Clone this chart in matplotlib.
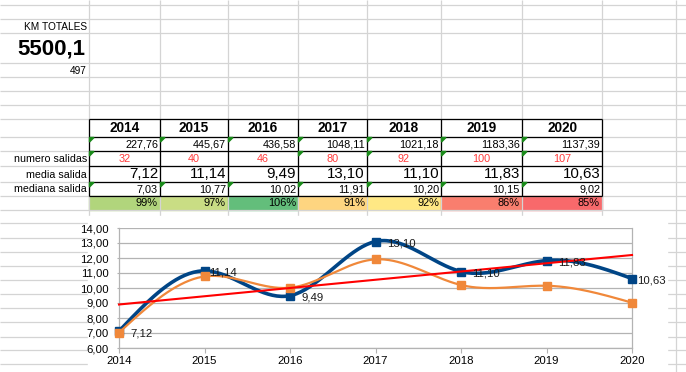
# -*- coding: utf-8 -*-

import numpy as np
import matplotlib
matplotlib.use('Agg')
import matplotlib.pyplot as plt
from matplotlib.patches import Rectangle, Polygon

plt.rcParams['font.family'] = ['Liberation Sans', 'DejaVu Sans']

# datos
years = [2014, 2015, 2016, 2017, 2018, 2019, 2020]
km = [227.76, 445.67, 436.58, 1048.11, 1021.18, 1183.36, 1137.39]
salidas = [32, 40, 46, 80, 92, 100, 107]
media = [7.12, 11.14, 9.49, 13.10, 11.10, 11.83, 10.63]
mediana = [7.03, 10.77, 10.02, 11.91, 10.20, 10.15, 9.02]
pct = [99, 97, 106, 91, 92, 86, 85]
pct_colors = ['#b1d57c', '#c9dd84', '#63be7b', '#fed580', '#ffe884', '#f97e6e', '#f8696b']
km_total = 5500.1
km_sub = 497
trend = [8.90, 12.20]  # extremos de la linea de tendencia


def es(v, d=2):
    return f'{v:.{d}f}'.replace('.', ',')


def spline(x, y, n=40):
    """spline cubica natural, solo para suavizar el dibujo"""
    x = np.asarray(x, float)
    y = np.asarray(y, float)
    m = len(x)
    A = np.zeros((m, m))
    b = np.zeros(m)
    A[0, 0] = A[-1, -1] = 1
    for i in range(1, m - 1):
        A[i, i - 1:i + 2] = [1, 4, 1]
        b[i] = 6 * (y[i + 1] - 2 * y[i] + y[i - 1])
    M = np.linalg.solve(A, b)
    xs, ys = [], []
    for i in range(m - 1):
        u = np.linspace(0, 1, n)
        s = (M[i] * (1 - u) ** 3 / 6 + M[i + 1] * u ** 3 / 6
             + (y[i] - M[i] / 6) * (1 - u) + (y[i + 1] - M[i + 1] / 6) * u)
        xs.extend(x[i] + u)
        ys.extend(s)
    return np.array(xs), np.array(ys)


fig = plt.figure(figsize=(6.86, 3.72), dpi=100)
bg = fig.add_axes([0, 0, 1, 1])
bg.set_xlim(0, 686)
bg.set_ylim(372, 0)
bg.axis('off')

# rejilla de la hoja
rows = [5, 19, 33, 63, 77, 91, 105, 119, 137, 151, 166, 182, 196, 210,
        223, 238, 252, 266, 280, 294, 308, 322, 337, 350, 364]
cols = [89, 160, 228, 298, 367, 441, 522, 602, 676]
bg.hlines(rows, 0, 686, color='#d4d4d4', lw=0.9)
bg.vlines(cols, 0, 372, color='#d4d4d4', lw=0.9)

# tabla
bg.add_patch(Rectangle((89, 119), 602 - 89, 91, color='white', zorder=1))
for i in range(7):
    x0, x1 = cols[i], cols[i + 1]
    bg.add_patch(Rectangle((x0, 196), x1 - x0, 14, color=pct_colors[i], zorder=1.5))
    xc = (x0 + x1) / 2
    bg.text(xc, 128.5, str(years[i]), ha='center', va='center', fontsize=9.8,
            fontweight='bold', zorder=3)
    bg.text(x1 - 2, 144.5, es(km[i]), ha='right', va='center', fontsize=7.8, zorder=3)
    bg.text(xc, 159, str(salidas[i]), ha='center', va='center', fontsize=7.8,
            color='#ff3b3b', zorder=3)
    bg.text(x1 - 2, 174.5, es(media[i]), ha='right', va='center', fontsize=10.8, zorder=3)
    bg.text(x1 - 2, 189.5, es(mediana[i]), ha='right', va='center', fontsize=7.8, zorder=3)
    bg.text(x1 - 2, 203.5, f'{pct[i]}%', ha='right', va='center', fontsize=7.9, zorder=3)
    # marcas verdes
    marks = [137, 182]
    if i in (0, 3, 4, 5, 6):
        marks.append(151)
    for yy in marks:
        bg.add_patch(Polygon([[x0 + 0.5, yy + 0.5], [x0 + 5, yy + 0.5], [x0 + 0.5, yy + 5]],
                             color='#1a8a1a', zorder=3))

bg.hlines([119, 137, 151, 166, 182, 196], 89, 602, color='black', lw=0.9, zorder=2)
bg.vlines(cols[:8], 119, 196, color='black', lw=0.9, zorder=2)

bg.text(87, 159, 'numero salidas', ha='right', va='center', fontsize=7.7)
bg.text(87, 174.5, 'media salida', ha='right', va='center', fontsize=7.7)
bg.text(87, 189.5, 'mediana salida', ha='right', va='center', fontsize=7.7)

bg.text(87, 26.5, 'KM TOTALES', ha='right', va='center', fontsize=7.3)
bg.text(85, 49, es(km_total, 1), ha='right', va='center', fontsize=16, fontweight='bold')
bg.text(87, 71, str(km_sub), ha='right', va='center', fontsize=7.3)

# grafico
bg.add_patch(Rectangle((88, 216), 667 - 88, 160, color='white', zorder=5))

ax = fig.add_axes([119 / 686, (372 - 348) / 372, (632 - 119) / 686, 120 / 372])
ax.set_xlim(2014, 2020)
ax.set_ylim(6, 14)
ax.set_xticks(years)
ax.set_xticklabels([str(y) for y in years])
yt = np.arange(6, 15)
ax.set_yticks(yt)
ax.set_yticklabels([es(v) for v in yt])
ax.grid(axis='y', color='#b3b3b3', lw=0.9)
ax.set_axisbelow(True)
for s in ax.spines.values():
    s.set_color('#b3b3b3')
    s.set_linewidth(0.9)
ax.spines['top'].set_visible(False)
ax.tick_params(axis='x', length=3.5, color='#b3b3b3', labelsize=8.2, pad=2)
ax.tick_params(axis='y', length=1.5, color='#b3b3b3', labelsize=8.2, pad=6)

bx, by = spline(years, media)
ox, oy = spline(years, mediana)
ax.plot(bx, by, color='#004586', lw=2.6, solid_capstyle='round', zorder=3, clip_on=False)
ax.plot(years, media, 's', color='#004586', ms=6, zorder=3, clip_on=False)
ax.plot(ox, oy, color='#f0883a', lw=1.6, zorder=4, clip_on=False)
ax.plot(years, mediana, 's', color='#f0883a', ms=5.5, zorder=4, clip_on=False)
ax.plot([years[0], years[-1]], trend, color='#ff0000', lw=1.5, zorder=5, clip_on=False)

offs = [8, 3, 8, 8, 8, 8, 4]
for x, v, o in zip(years, media, offs):
    ax.annotate(es(v), (x, v), xytext=(o, -1.5), textcoords='offset points',
                ha='left', va='center', fontsize=8.2, color='#1a1a1a', zorder=6,
                annotation_clip=False)

fig.savefig('out.png', dpi=100)
